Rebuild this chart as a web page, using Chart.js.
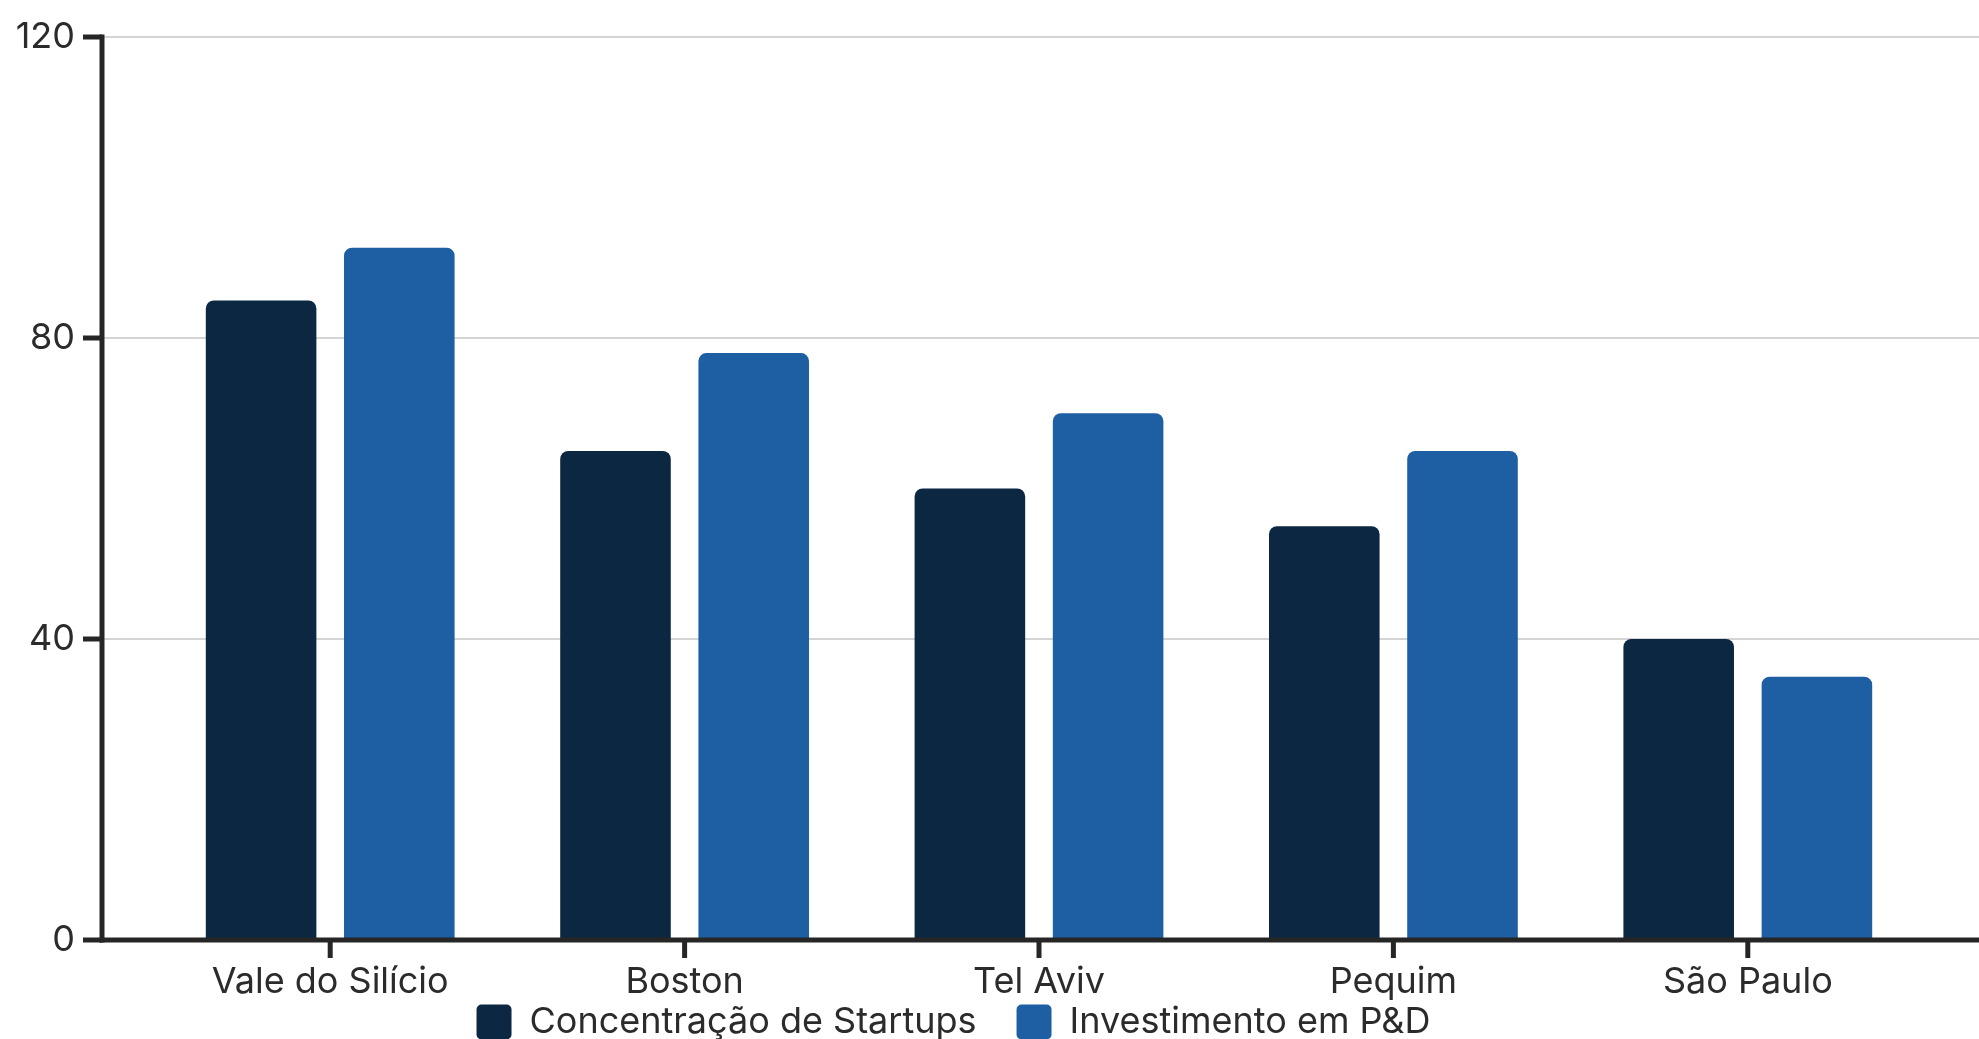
<!DOCTYPE html>
<html>
<head>
<meta charset="utf-8">
<script src="https://cdn.jsdelivr.net/npm/chart.js@4"></script>
<style>
  html, body { margin: 0; padding: 0; background: #fff; overflow: hidden; }
  #wrap { position: absolute; left: 0; top: 0; width: 1979px; height: 1050px; }
</style>
</head>
<body>
<div id="wrap"><canvas id="chart"></canvas></div>
<script>
// Chart data
const categories = ["Vale do Silício", "Boston", "Tel Aviv", "Pequim", "São Paulo"];
const startups = [85, 65, 60, 55, 40];
const investimento = [92, 78, 70, 65, 35];
const yTicks = [0, 40, 80, 120];

const axisColor = "#262626";
const gridColor = "#d4d4d4";

Chart.defaults.font.family = "Inter";
Chart.defaults.font.size = 36;
Chart.defaults.color = "#2b2b2b";

// axes, grid and tick marks drawn by hand so they can run past the bars
const axesPlugin = {
  id: "axesPlugin",
  afterLayout(chart) {
    // legend sits a little left of the canvas centre
    chart.legend.left -= 18;
  },
  beforeDatasetsDraw(chart) {
    const { ctx, chartArea } = chart;
    const y = chart.scales.y;
    const x0 = chartArea.left - 51;
    ctx.save();
    ctx.strokeStyle = gridColor;
    ctx.lineWidth = 2;
    yTicks.forEach(v => {
      if (v === 0) return;
      const py = y.getPixelForValue(v);
      ctx.beginPath();
      ctx.moveTo(x0, py);
      ctx.lineTo(chart.width, py);
      ctx.stroke();
    });
    ctx.restore();
  },
  afterDatasetsDraw(chart) {
    const { ctx, chartArea } = chart;
    const y = chart.scales.y;
    const x = chart.scales.x;
    const x0 = chartArea.left - 51;
    const base = y.getPixelForValue(0);
    ctx.save();
    ctx.strokeStyle = axisColor;
    ctx.lineWidth = 5;
    // y axis line
    ctx.beginPath();
    ctx.moveTo(x0, y.getPixelForValue(120) - 2.5);
    ctx.lineTo(x0, base + 2.5);
    ctx.stroke();
    // x axis line
    ctx.beginPath();
    ctx.moveTo(x0 - 2.5, base);
    ctx.lineTo(chart.width, base);
    ctx.stroke();
    // y tick marks
    yTicks.forEach(v => {
      const py = y.getPixelForValue(v);
      ctx.beginPath();
      ctx.moveTo(x0 - 19, py);
      ctx.lineTo(x0, py);
      ctx.stroke();
    });
    // x tick marks
    categories.forEach((c, i) => {
      const px = x.getPixelForTick(i);
      ctx.beginPath();
      ctx.moveTo(px, base);
      ctx.lineTo(px, base + 18);
      ctx.stroke();
    });
    ctx.restore();
  }
};

new Chart(document.getElementById("chart"), {
  type: "bar",
  data: {
    labels: categories,
    datasets: [
      {
        label: "Concentração de Startups",
        data: startups,
        backgroundColor: "#0c2742",
        borderRadius: 8,
        borderSkipped: "start"
      },
      {
        label: "Investimento em P&D",
        data: investimento,
        backgroundColor: "#1e5ea2",
        borderRadius: 8,
        borderSkipped: "start"
      }
    ]
  },
  options: {
    responsive: true,
    maintainAspectRatio: false,
    animation: false,
    datasets: {
      bar: { categoryPercentage: 0.78, barPercentage: 0.8 }
    },
    layout: { padding: { top: 37, right: 54, left: 0, bottom: 0 } },
    plugins: {
      tooltip: { enabled: false },
      legend: {
        position: "bottom",
        labels: {
          boxWidth: 35,
          boxHeight: 35,
          useBorderRadius: true,
          borderRadius: 5,
          padding: 40,
          font: { size: 36 }
        }
      }
    },
    scales: {
      x: {
        grid: { display: false, drawTicks: false },
        border: { display: false },
        ticks: { padding: 21, maxRotation: 0, autoSkip: false },
        afterFit(scale) {
          scale.height = 24;
          // labels run below the (short) axis box, so don't clip them
          scale._computeLabelArea = () => undefined;
        }
      },
      y: {
        min: 0,
        max: 120,
        grid: { display: false, drawTicks: false },
        border: { display: false },
        ticks: { stepSize: 40, padding: 78 },
        afterFit(scale) {
          scale.width = 153;
          scale.paddingTop = 0;
          scale.paddingBottom = 0;
        }
      }
    }
  },
  plugins: [axesPlugin]
});
</script>
</body>
</html>
